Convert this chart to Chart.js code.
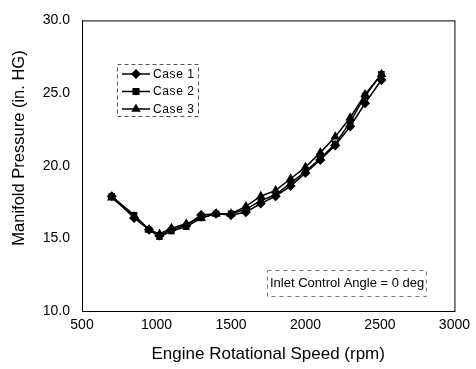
<!DOCTYPE html>
<html>
<head>
<meta charset="utf-8">
<script src="https://cdn.jsdelivr.net/npm/chart.js@4/dist/chart.umd.min.js"></script>
<style>
  body { margin: 0; background: #fff; }
  #wrap { width: 476px; height: 369px; }
</style>
</head>
<body>
<div id="wrap"><canvas id="c"></canvas></div>
<script>
// engine speed (rpm)
const speeds = [700, 850, 950, 1020, 1100, 1200, 1300, 1400, 1500, 1600, 1700, 1800, 1900, 2000, 2100, 2200, 2300, 2400, 2510];
// manifold pressure (in. HG)
const case1 = [17.9, 16.4, 15.6, 15.2, 15.6, 15.9, 16.6, 16.7, 16.6, 16.8, 17.4, 17.9, 18.6, 19.5, 20.4, 21.4, 22.7, 24.3, 25.9];
const case2 = [17.9, 16.6, 15.6, 15.1, 15.5, 15.8, 16.4, 16.7, 16.7, 17.0, 17.6, 18.0, 18.8, 19.6, 20.5, 21.5, 23.0, 24.8, 26.3];
const case3 = [17.8, 16.5, 15.6, 15.3, 15.7, 16.0, 16.4, 16.7, 16.7, 17.2, 17.9, 18.3, 19.1, 19.9, 20.9, 22.0, 23.3, 24.9, 26.3];
const labels = ["Case 1", "Case 2", "Case 3"];
const markers = ["rectRot", "rect", "triangle"];

const font = "'Liberation Sans', Arial, sans-serif";

function pts(ys) {
  return speeds.map((x, i) => ({ x: x, y: ys[i] }));
}

function series(i, ys) {
  return {
    label: labels[i],
    data: pts(ys),
    borderColor: "#000",
    backgroundColor: "#000",
    borderWidth: 1.5,
    pointStyle: markers[i],
    pointRadius: markers[i] === "rect" ? 3.5 : 4,
    tension: 0
  };
}

// frame, y title, legend box and note box
const extras = {
  id: "extras",
  afterDraw(chart) {
    const ctx = chart.ctx;
    const a = chart.chartArea;
    ctx.save();
    ctx.strokeStyle = "#000";
    ctx.lineWidth = 1;
    ctx.strokeRect(a.left + 0.5, a.top + 0.5, a.right - a.left, a.bottom - a.top);

    // y title (sits a bit above the axis middle in the original)
    ctx.save();
    ctx.translate(19, 148);
    ctx.rotate(-Math.PI / 2);
    ctx.font = "16.5px " + font;
    ctx.textAlign = "center";
    ctx.textBaseline = "middle";
    ctx.fillStyle = "#000";
    ctx.fillText("Manifold Pressure (in. HG)", 0, 0);
    ctx.restore();

    // legend
    ctx.setLineDash([4, 3]);
    ctx.strokeStyle = "#555";
    ctx.strokeRect(117.5, 64.5, 81, 52);
    ctx.setLineDash([]);
    ctx.font = "12px " + font;
    ctx.letterSpacing = "0.6px";
    ctx.textBaseline = "middle";
    ctx.fillStyle = "#000";
    const rows = [74, 91.5, 109];
    labels.forEach((lab, i) => {
      const y = rows[i];
      ctx.strokeStyle = "#000";
      ctx.lineWidth = 1.5;
      ctx.beginPath();
      ctx.moveTo(122, y);
      ctx.lineTo(150, y);
      ctx.stroke();
      Chart.helpers.drawPoint(ctx, { pointStyle: markers[i], radius: 4, rotation: 0, borderWidth: 1 }, 136, y);
      ctx.fill();
      ctx.fillText(lab, 153, y + 0.5);
    });
    ctx.letterSpacing = "0px";

    // note
    ctx.setLineDash([4, 4]);
    ctx.strokeStyle = "#777";
    ctx.lineWidth = 1;
    ctx.strokeRect(267.5, 270.5, 159, 26);
    ctx.setLineDash([]);
    ctx.fillStyle = "#000";
    ctx.font = "13px " + font;
    ctx.textAlign = "left";
    ctx.fillText("Inlet Control Angle = 0 deg", 270, 283.5);
    ctx.restore();
  }
};

new Chart(document.getElementById("c"), {
  type: "line",
  data: { datasets: [series(0, case1), series(1, case2), series(2, case3)] },
  options: {
    responsive: true,
    maintainAspectRatio: false,
    animation: false,
    layout: { padding: { top: 18, right: 19, left: 0, bottom: 0 } },
    plugins: { legend: { display: false }, tooltip: { enabled: false } },
    scales: {
      x: {
        type: "linear",
        min: 500,
        max: 3000,
        ticks: { stepSize: 500, color: "#000", font: { family: font, size: 14 }, padding: 6, maxRotation: 0, callback: v => String(v) },
        grid: { color: "transparent", drawTicks: false },
        border: { color: "#000" },
        title: { display: true, text: "Engine Rotational Speed (rpm)", color: "#000", font: { family: font, size: 17 }, padding: { top: 7 } },
        afterFit(s) { s.height = 58; }
      },
      y: {
        min: 10,
        max: 30,
        ticks: { stepSize: 5, color: "#000", font: { family: font, size: 14 }, padding: 12, callback: v => v.toFixed(1) },
        grid: { color: "transparent", drawTicks: false },
        border: { color: "#000" },
        afterFit(s) { s.width = 82; }
      }
    }
  },
  plugins: [extras]
});
</script>
</body>
</html>
